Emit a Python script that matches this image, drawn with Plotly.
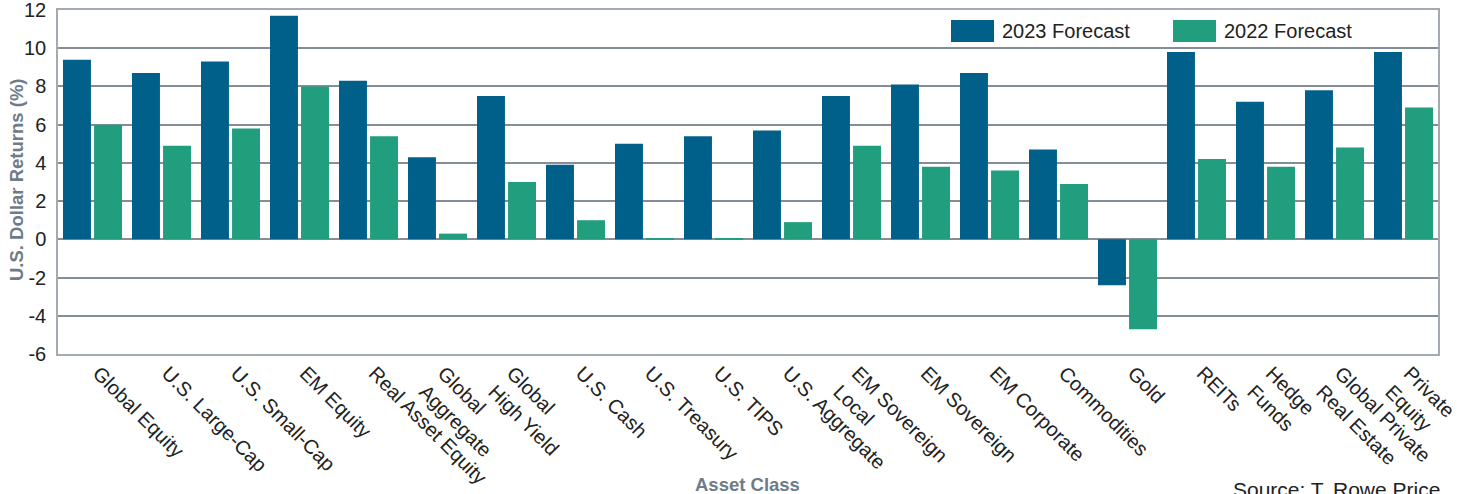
import plotly.graph_objects as go

categories = [
    "Global Equity", "U.S. Large-Cap", "U.S. Small-Cap", "EM Equity",
    "Real Asset Equity", "Global<br>Aggregate", "Global<br>High Yield",
    "U.S. Cash", "U.S. Treasury", "U.S. TIPS", "U.S. Aggregate",
    "EM Sovereign<br>Local", "EM Sovereign", "EM Corporate", "Commodities",
    "Gold", "REITs", "Hedge<br>Funds", "Global Private<br>Real Estate",
    "Private<br>Equity",
]
forecast_2023 = [9.4, 8.7, 9.3, 11.7, 8.3, 4.3, 7.5, 3.9, 5.0, 5.4, 5.7,
                 7.5, 8.1, 8.7, 4.7, -2.4, 9.8, 7.2, 7.8, 9.8]
forecast_2022 = [6.0, 4.9, 5.8, 8.0, 5.4, 0.3, 3.0, 1.0, 0.03, 0.03, 0.9,
                 4.9, 3.8, 3.6, 2.9, -4.7, 4.2, 3.8, 4.8, 6.9]
series_names = ["2023 Forecast", "2022 Forecast"]
y_ticks = [-6, -4, -2, 0, 2, 4, 6, 8, 10, 12]
y_tick_text = [str(v) for v in y_ticks]

BLUE = "#00608A"
GREEN = "#219E7E"
GRID = "#858E98"
TEXT = "#222222"
TITLE = "#6E7B89"
FONT = "Liberation Sans, Arial, sans-serif"

fig = go.Figure()
fig.add_trace(go.Bar(x=categories, y=forecast_2023, name=series_names[0],
                     marker=dict(color=BLUE, line=dict(width=0))))
fig.add_trace(go.Bar(x=categories, y=forecast_2022, name=series_names[1],
                     marker=dict(color=GREEN, line=dict(width=0))))

fig.update_layout(
    width=1466, height=494,
    margin=dict(l=58, r=28, t=10, b=140),
    paper_bgcolor="white", plot_bgcolor="white",
    barmode="group", bargap=0.1, bargroupgap=0.1,
    showlegend=False,
    font=dict(family=FONT, color=TEXT, size=18),
)
fig.update_xaxes(
    tickangle=45, tickfont=dict(size=20, color=TEXT),
    showline=True, mirror=True, linecolor="#A3AAB2", linewidth=1.5,
    showgrid=False, ticks="", automargin=False, ticklabelshift=6,
    ticklabelstandoff=-2,
)
fig.update_yaxes(
    range=[-6, 12], tickvals=y_ticks, ticktext=y_tick_text,
    tickfont=dict(size=20, color=TEXT),
    showgrid=True, gridcolor=GRID, gridwidth=1.5,
    zeroline=True, zerolinecolor=GRID, zerolinewidth=1.5,
    showline=True, mirror=True, linecolor="#A3AAB2", linewidth=1.5,
    ticks="", ticklabelstandoff=6, automargin=False,
    ticklabeloverflow="allow",
)

def px_x(p):
    return (p - 58) / 1380.0

def px_y(p):
    return (354 - p) / 344.0

# y-axis title
fig.add_annotation(text="<b>U.S. Dollar Returns (%)</b>", textangle=-90,
                   xref="paper", yref="paper", x=px_x(16), y=px_y(180),
                   xanchor="center", yanchor="middle", showarrow=False,
                   font=dict(size=18.5, color=TITLE, family=FONT))
# x-axis title
fig.add_annotation(text="<b>Asset Class</b>", xref="paper", yref="paper",
                   x=px_x(747), y=px_y(484), xanchor="center", yanchor="middle",
                   showarrow=False, font=dict(size=18.5, color=TITLE, family=FONT))
# source
fig.add_annotation(text="Source: T. Rowe Price", xref="paper", yref="paper",
                   x=px_x(1442), y=px_y(476), xanchor="right", yanchor="top",
                   showarrow=False, font=dict(size=21, color=TEXT, family=FONT))

# custom legend (swatches + labels)
legend_items = [(series_names[0], BLUE, 951), (series_names[1], GREEN, 1173)]
for name, col, x0 in legend_items:
    fig.add_shape(type="rect", xref="paper", yref="paper",
                  x0=px_x(x0), x1=px_x(x0 + 43), y0=px_y(42), y1=px_y(20),
                  fillcolor=col, line=dict(width=0))
    fig.add_annotation(text=name, xref="paper", yref="paper",
                       x=px_x(x0 + 49), y=px_y(31), xanchor="left",
                       yanchor="middle", showarrow=False,
                       font=dict(size=20, color=TEXT, family=FONT))

fig.write_html("out.html")
